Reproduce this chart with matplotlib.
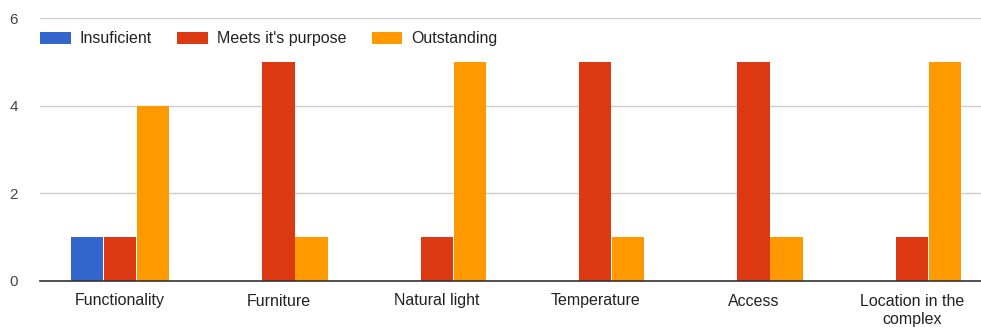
import matplotlib.pyplot as plt
import numpy as np
from matplotlib.patches import Patch

plt.rcParams['font.family'] = ['Liberation Sans', 'DejaVu Sans']

categories = ["Functionality", "Furniture", "Natural light", "Temperature",
              "Access", "Location in the\ncomplex"]
series_names = ["Insuficient", "Meets it's purpose", "Outstanding"]
insuficient = [1, 0, 0, 0, 0, 0]
meets_purpose = [1, 5, 1, 5, 5, 1]
outstanding = [4, 1, 5, 1, 1, 5]
colors = ["#3366cc", "#dc3912", "#ff9900"]
y_ticks = [0, 2, 4, 6]

fig = plt.figure(figsize=(9.81, 3.32), dpi=100)
ax = fig.add_axes([40 / 981, 51 / 332, 941 / 981, 263 / 332])

x = np.arange(len(categories))
w = 0.205
for i, (vals, c) in enumerate(zip([insuficient, meets_purpose, outstanding], colors)):
    ax.bar(x + (i - 1) * (w + 0.004), vals, width=w, color=c, zorder=3)

ax.set_xlim(-0.505, 5.436)
ax.set_ylim(0, 6)
ax.set_yticks(y_ticks)
ax.set_yticklabels([str(t) for t in y_ticks], color="#444444", fontsize=11)
ax.set_xticks(x)
ax.set_xticklabels(categories, color="#222222", fontsize=11.5, linespacing=1.3)
ax.tick_params(axis='both', length=0)
ax.tick_params(axis='y', pad=16)
ax.tick_params(axis='x', pad=9)
ax.grid(axis='y', color="#cccccc", linewidth=1, zorder=0)
for s in ['top', 'right', 'left']:
    ax.spines[s].set_visible(False)
ax.spines['bottom'].set_color("#333333")
ax.spines['bottom'].set_linewidth(1.2)
ax.spines['bottom'].set_zorder(4)

handles = [Patch(facecolor=c, edgecolor='none') for c in colors]
fig.legend(handles, series_names, loc='upper left', bbox_to_anchor=(26 / 981, 1 - 17 / 332),
           ncol=3, frameon=False, fontsize=11.5, handlelength=1.9, handleheight=0.8,
           handletextpad=0.56, columnspacing=1.6, labelcolor="#222222")

fig.savefig("out.png", dpi=100)
